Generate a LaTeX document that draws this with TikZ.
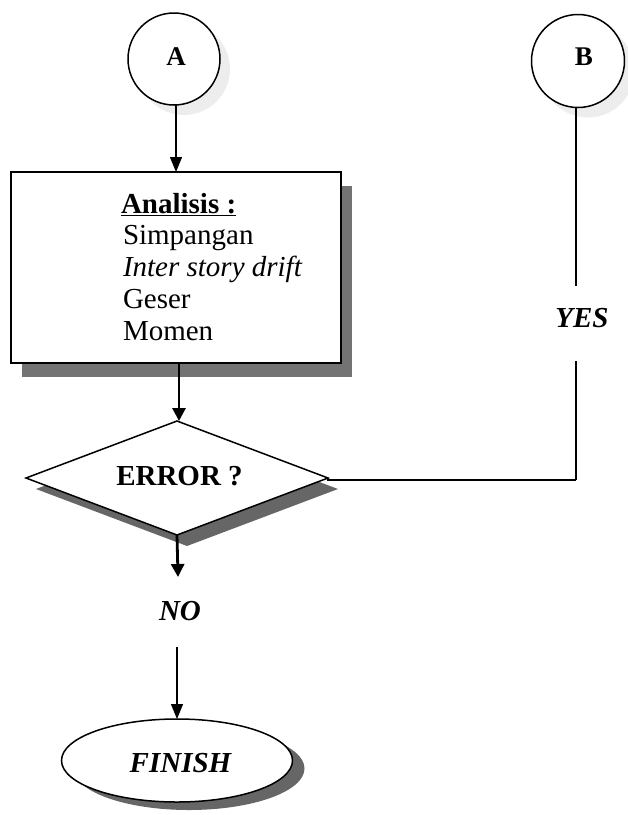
\documentclass[tikz,border=0pt]{standalone}
\usepackage{fontspec}
\setmainfont{Liberation Serif}
\usetikzlibrary{shapes.geometric,shadows,arrows.meta}
\newcommand\bigfs{\fontsize{29}{32}\selectfont}
\newcommand\midfs{\fontsize{27}{30}\selectfont}
\begin{document}
\begin{tikzpicture}[x=1pt,y=-1pt,
  every node/.style={inner sep=0pt, outer sep=0pt},
  thinarrow/.style={line width=1.2pt, -{Triangle[length=15pt,width=12pt]}},
  thickarrow/.style={line width=2.8pt, -{Triangle[length=13pt,width=13pt]}},
  lbl/.style={font=\bigfs, anchor=base},
  boxline/.style={line width=2.2pt},
  lightshadow/.style={drop shadow={shadow xshift=10pt, shadow yshift=-10pt, fill=black, opacity=0.07}},
  shapeline/.style={draw, line width=1.5pt, fill=white}
]
\useasboundingbox (0,0) rectangle (628,815);

% connectors A circle
\node[circle, shapeline, minimum size=92pt, lightshadow] (A) at (174,59) {};
\node[anchor=base, font=\midfs\bfseries] (ta) at (176,65.5) {A};
\node[circle, shapeline, minimum size=93pt, lightshadow] (B) at (578,61) {};
\node[anchor=base, font=\midfs\bfseries] (tb) at (584,65.5) {B};

% analysis box
\node[rectangle, shapeline, minimum width=330pt, minimum height=191pt,
  drop shadow={shadow xshift=11pt, shadow yshift=-14pt, fill=black, opacity=0.55}] (box) at (176,267.5) {};
\node[font=\bigfs\bfseries, anchor=base west] (l1) at (121,213) {\underline{Analisis :}};
\node[font=\bigfs, anchor=base west] (l2) at (123,244.75) {Simpangan};
\node[font=\bigfs\itshape, anchor=base west] (l3) at (123,276.5) {Inter story drift};
\node[font=\bigfs, anchor=base west] (l4) at (123,308.25) {Geser};
\node[font=\bigfs, anchor=base west] (l5) at (123,340) {Momen};

% decision
\node[diamond, shapeline, minimum width=302pt, minimum height=114pt,
  drop shadow={shadow xshift=10pt, shadow yshift=-11pt, fill=black, opacity=0.6}] (dia) at (177,478) {};
\node[lbl, font=\bigfs\bfseries] (errt) at (179.5,485) {ERROR ?};

% finish
\node[ellipse, shapeline, minimum width=231pt, minimum height=83pt,
  drop shadow={shadow xshift=12pt, shadow yshift=-8pt, fill=black, opacity=0.6}] (fin) at (177,760.5) {};
\node[lbl, font=\bigfs\bfseries\itshape] (fint) at (180.5,772) {FINISH};

% labels
\node[lbl, font=\bigfs\bfseries\itshape] (yes) at (582,327) {YES};
\node[lbl, font=\bigfs\bfseries\itshape] (no) at (180,620) {NO};

% coordinates
\coordinate (yTop) at (576,286);
\coordinate (yBot) at (576,361);
\coordinate (yCorner) at (576,480);
\coordinate (noTop) at (178,577);
\coordinate (noBot) at (177,647);

% connectors
\draw[thinarrow] (A.south -| box.north) -- (box.north);
\draw[thickarrow] (box.south -| dia.north) ++(2,0) -- ([xshift=2pt]dia.north);
\draw[thickarrow] (dia.south) -- (noTop);
\draw[thinarrow] (noBot) -- (noBot |- fin.north);
\draw[boxline] (B.south -| yTop) -- (yTop);
\draw[boxline] (yBot) -- (yCorner);
\draw[line width=1.6pt] (yCorner) -- (yCorner -| dia.east) -- (dia.east);
\end{tikzpicture}
\end{document}
